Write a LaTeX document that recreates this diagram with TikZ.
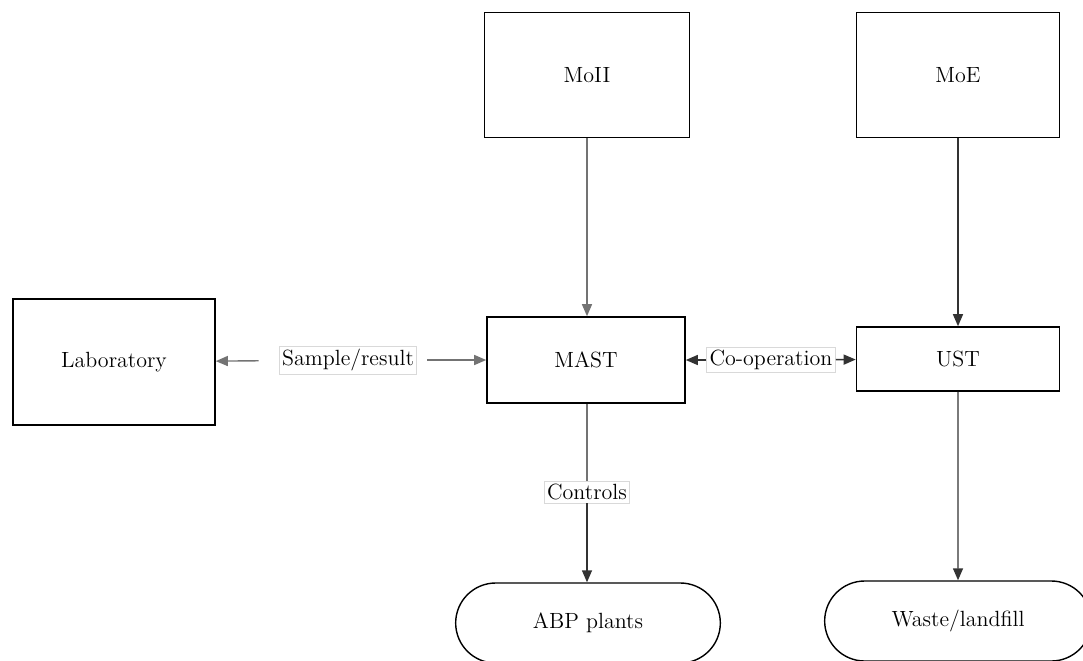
\documentclass[tikz,border=0pt]{standalone}
\usetikzlibrary{arrows.meta,shapes.misc}
\begin{document}
\begin{tikzpicture}[x=0.5pt,y=-0.5pt,
    box/.style={draw,line width=0.8pt,minimum width=#1,font=\fontsize{11}{13}\selectfont},
    pill/.style={draw,rounded rectangle,line width=0.7pt,minimum width=#1,minimum height=40pt,font=\fontsize{11}{13}\selectfont},
    tag/.style={draw=black!15,fill=white,inner sep=1.5pt,font=\fontsize{11}{13}\selectfont},
    link/.style={line width=0.7pt,black!80,-{Triangle[length=6pt,width=5pt]}}]
  \useasboundingbox (0,0) rectangle (1083,660);
  % boxes
  \node[box=101pt,minimum height=63pt] (lab) at (114,362) {Laboratory};
  \node[box=102.5pt,minimum height=62.5pt] (moii) at (587,75) {MoII};
  \node[box=101.5pt,minimum height=62.5pt] (moe) at (958,75) {MoE};
  \node[box=99pt,minimum height=43pt] (mast) at (586,360) {MAST};
  \node[box=101.5pt,minimum height=32pt] (ust) at (958,359) {UST};
  \node[pill=139pt] (abp) at (588,623) {ABP plants};
  \node[pill=140pt] (waste) at (958,621) {Waste/landfill};
  % labels
  \node[tag] (smp) at (348,360) {Sample/result};
  \node[tag] (coop) at (771,360) {Co-operation};
  \node[tag] (ctrl) at (587,492) {Controls};
  % arrows
  \draw[link,black!55] (moii.south -| 587,0) -- (mast.north -| 587,0);
  \draw[link] (moe) -- (ust);
  \draw[link,black!55,shorten <=10pt] (smp) -- (lab);
  \draw[link,black!55,shorten <=5pt] (smp) -- (mast);
  \draw[link] (coop) -- (mast);
  \draw[link] (coop) -- (ust);
  \draw[line width=0.7pt,black!55] (mast.south -| 587,0) -- (ctrl);
  \draw[link] (ctrl) -- (abp.north -| 587,0);
  \draw[link] (ust) -- (waste);
\end{tikzpicture}
\end{document}
